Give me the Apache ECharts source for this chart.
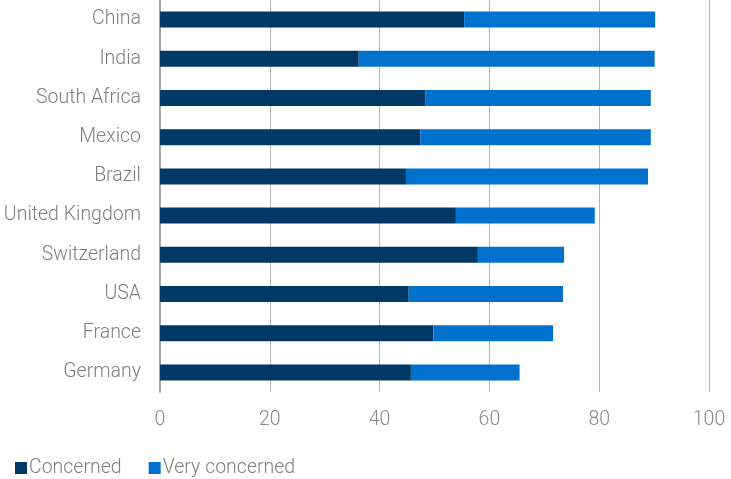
<!DOCTYPE html>
<html>
<head>
<meta charset="utf-8">
<script src="https://cdn.jsdelivr.net/npm/echarts@6/dist/echarts.min.js"></script>
<style>html,body{margin:0;padding:0;background:#fff}#c{width:731px;height:479px}</style>
</head>
<body>
<div id="c"></div>
<script>
const categories = ["China","India","South Africa","Mexico","Brazil","United Kingdom","Switzerland","USA","France","Germany"];
const concerned = [55.4, 36.2, 48.3, 47.4, 44.8, 53.9, 57.9, 45.3, 49.8, 45.7];
const veryConcerned = [34.8, 53.9, 41.1, 42.0, 44.1, 25.3, 15.7, 28.1, 21.8, 19.8];
const seriesNames = ["Concerned", "Very concerned"];

const FONT = "Roboto";
const chart = echarts.init(document.getElementById('c'), null, {renderer: 'canvas'});
chart.setOption({
  animation: false,
  textStyle: {fontFamily: FONT},
  grid: {left: 160, right: 22, top: 0, bottom: 87, containLabel: false},
  legend: {
    left: 10, top: 453,
    itemWidth: 12, itemHeight: 12, itemGap: 27,
    icon: 'rect',
    textStyle: {color: '#7f7f7f', fontSize: 19.5, fontWeight: 300, fontFamily: FONT, padding: [0,0,0,-3]},
    data: seriesNames
  },
  xAxis: {
    type: 'value', min: 0, max: 100, interval: 20,
    axisLine: {show: false}, axisTick: {show: false},
    splitLine: {lineStyle: {color: '#b4b4b4', width: 1}},
    axisLabel: {color: '#8a8a8a', fontSize: 19.5, fontWeight: 300, margin: 18}
  },
  yAxis: {
    type: 'category', data: categories, inverse: true,
    axisLine: {show: true, lineStyle: {color: '#a6a6a6', width: 2}},
    axisTick: {show: false},
    axisLabel: {color: '#7f7f7f', fontSize: 19.5, fontWeight: 300, margin: 19, padding: [3,0,0,0]}
  },
  series: [
    {name: seriesNames[0], type: 'bar', stack: 'a', data: concerned, barWidth: 16,
     itemStyle: {color: '#023866'}},
    {name: seriesNames[1], type: 'bar', stack: 'a', data: veryConcerned, barWidth: 16,
     itemStyle: {color: '#0072CE'}}
  ]
});
</script>
</body>
</html>
